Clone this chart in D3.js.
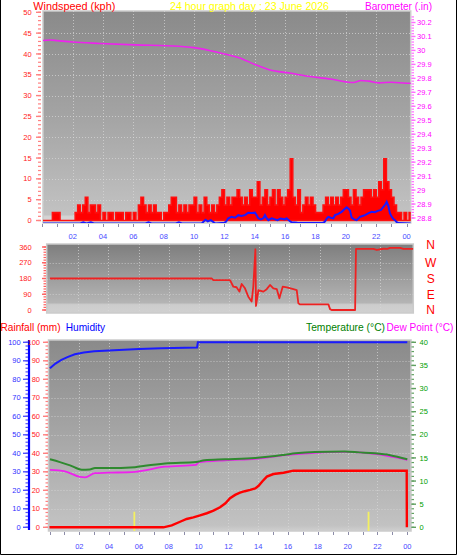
<!DOCTYPE html>
<html><head><meta charset="utf-8">
<script src="https://cdn.jsdelivr.net/npm/d3@7"></script>
<style>body{margin:0;background:#fff}svg{display:block;font-family:"Liberation Sans",Arial,sans-serif}</style>
</head><body><svg id="c" width="457" height="555"></svg>
<script>
// ---------------- DATA ----------------
const hourTickLabels = ["02","04","06","08","10","12","14","16","18","20","22","00"];
const hourTickValues = [2,4,6,8,10,12,14,16,18,20,22,24];
// wind gust (kph), one value per 10-minute slot starting 00:00
const gustSlotHours = 1/6;
const windGust = [
0,0,0,0,1.9,1.9,1.9,0,0,0,0,0,0,1.9,3.7,1.9,3.7,5.6,1.9,3.7,3.7,1.9,3.7,0,
1.9,0,1.9,1.9,0,1.9,1.9,1.9,0,1.9,1.9,0,1.9,0,3.7,5.6,3.7,1.9,3.7,1.9,3.7,1.9,
1.9,0,1.9,1.9,3.7,5.6,5.6,1.9,3.7,1.9,3.7,1.9,3.7,3.7,5.6,1.9,3.7,1.9,5.6,3.7,
1.9,3.7,1.9,3.7,5.6,7.4,3.7,5.6,3.7,5.6,5.6,7.4,5.6,3.7,5.6,3.7,7.4,5.6,5.6,9.3,
3.7,5.6,7.4,3.7,5.6,7.4,3.7,7.4,5.6,3.7,5.6,7.4,14.8,5.6,3.7,7.4,1.9,3.7,5.6,3.7,
5.6,3.7,1.9,1.9,1.9,3.7,5.6,3.7,5.6,3.7,5.6,3.7,5.6,7.4,7.4,5.6,3.7,7.4,5.6,3.7,
5.6,7.4,7.4,7.4,5.6,7.4,5.6,9.3,7.4,14.8,9.3,7.4,5.6,3.7,1.9,1.9,0,1.9,0,1.9];
// average wind (kph): [hour, value]
const windAvg = [[0,0],[2.5,0],[2.7,0.3],[2.9,0],[3.2,0.3],[3.4,0],[6.8,0],[7.0,0.3],[7.2,0],[8.8,0],[9.0,0.3],[9.2,0],
[10.5,0],[10.75,0.9],[10.9,0.5],[11.1,0.8],[11.4,0],[12.0,0.2],[12.1,0.4],[12.25,1.25],[12.47,1.6],[12.7,1.4],[12.91,2.0],
[13.1,1.8],[13.35,2.0],[13.57,2.6],[13.8,2.5],[14.01,2.6],[14.12,2.0],[14.23,1.25],[14.4,1.0],[14.56,1.25],[14.67,2.0],
[14.78,1.3],[14.89,0.8],[15.11,1.25],[15.33,1.0],[15.5,0.8],[15.7,1.2],[15.98,1.0],[16.09,1.25],[16.3,0.6],[16.42,0.3],
[16.8,0.2],[17.5,0.1],[18.5,0.2],[18.61,0.4],[18.75,1.25],[18.84,1.6],[19.0,1.4],[19.17,1.25],[19.28,2.0],[19.5,2.3],
[19.72,2.8],[19.9,3.4],[20.05,3.9],[20.15,3.6],[20.27,3.1],[20.38,1.4],[20.55,1.0],[20.71,0.8],[20.93,1.6],[21.1,1.8],
[21.26,2.0],[21.5,2.5],[21.7,2.8],[21.9,2.7],[22.14,3.1],[22.3,3.2],[22.47,4.0],[22.6,4.6],[22.69,5.2],[22.8,4.2],
[22.9,2.5],[23.02,1.6],[23.15,1.0],[23.24,0.8],[23.35,0.3],[23.46,0.1],[24.3,0]];
// barometer (in): [hour, value]
const barometer = [[0,30.07],[0.5,30.075],[1,30.07],[2,30.06],[3.8,30.05],[6.1,30.04],[9,30.03],[10,30.02],[11,30.0],
[12,29.975],[13,29.946],[14,29.9],[15,29.86],[16.3,29.838],[17.5,29.815],[19,29.795],[20,29.775],[20.5,29.77],
[21,29.785],[21.5,29.78],[22.2,29.768],[23,29.772],[24,29.765],[24.3,29.765]];
// wind direction (degrees): [hour, value]
const windDir = [[0.13,180],[10.86,180],[10.96,171],[12.07,171],[12.29,133],[12.5,130],[12.69,105],[12.84,149],
[13.06,124],[13.28,76],[13.5,48],[13.61,133],[13.75,347],[13.79,23],[13.95,114],[14.28,105],[14.5,119],[14.72,143],
[14.94,124],[15.17,119],[15.34,67],[15.56,133],[15.83,129],[16.27,119],[16.49,114],[16.6,38],[16.71,32],[18.59,32],
[18.7,5],[18.8,0],[20.36,0],[20.42,349],[21.57,349],[21.8,343],[22.24,350],[22.5,349],[22.68,355],[23.34,355],
[23.56,349],[24.22,349]];
const compassLabels = ["N","W","S","E","N"];
const compassDegrees = [360,270,180,90,0];
// humidity (%)
const humidity = [[0.03,86],[0.4,88.5],[0.8,90.5],[1.2,92],[1.7,93.5],[2.3,94.5],[3,95.2],[4,95.6],[5,96],[6,96.4],
[7.5,96.8],[9.9,97.2],[9.95,100],[24,100]];
// temperature (°C)
const temperature = [[0.03,14.7],[0.7,14.1],[1.38,13.4],[2.16,12.45],[2.7,12.5],[3.05,12.8],[3.84,12.8],[5.74,13.0],
[6.4,13.3],[7.75,13.8],[9.83,14.1],[10.4,14.5],[11.78,14.7],[13.8,15.0],[14.8,15.3],[15.8,15.7],[16.5,16.0],
[17.8,16.3],[19.8,16.4],[20.8,16.2],[21.8,16.0],[22.85,15.6],[24,14.7]];
// dew point (°C)
const dewPoint = [[0.03,12.4],[1.04,12.1],[2.05,10.9],[2.38,10.8],[3.05,11.7],[3.93,11.8],[5.74,12.0],[7.75,13.1],
[9.83,13.5],[9.97,14.0],[11.78,14.5],[13.8,14.8],[15.8,15.6],[17.8,16.1],[19.8,16.3],[21.8,15.9],[24,14.6]];
// rainfall (mm)
const rainfall = [[0,0],[7.64,0],[8.2,1],[8.76,3],[9.2,4.5],[9.65,5.4],[10.1,6.5],[10.55,7.6],[11,9],[11.44,10.8],
[11.8,13],[12.11,15.7],[12.45,17.5],[12.78,18.7],[13.1,19.5],[13.46,20.2],[13.8,21],[14.01,22.3],[14.3,25],[14.58,27.4],
[15.02,28.8],[15.7,29.5],[16.36,30.6],[23.96,30.6],[23.97,0]];
// sunrise / sunset markers (hours)
const sunMarks = [5.69, 21.4];
const sunMarkHeight = 8.4;

// ---------------- DRAWING ----------------
const svg = d3.select("#c");
const defs = svg.append("defs");
function grad(id, stops){
  const g = defs.append("linearGradient").attr("id",id).attr("x1",0).attr("y1",0).attr("x2",0).attr("y2",1);
  stops.forEach(s=>g.append("stop").attr("offset",s[0]).attr("stop-color",s[1]));
}
grad("g1",[[0,"#8a8a8a"],[0.5,"#a4a4a4"],[0.96,"#c2c2c2"],[0.97,"#d4d4d4"],[1,"#d4d4d4"]]);
grad("g2",[[0,"#7e7e7e"],[0.85,"#b4b4b4"],[0.88,"#cdcdcd"],[1,"#d0d0d0"]]);
grad("g3",[[0,"#8a8a8a"],[0.5,"#a6a6a6"],[0.97,"#c2c2c2"],[1,"#cfcfcf"]]);

// border
svg.append("path").attr("d","M0.5,0 V554.5 H456.5 V0").attr("fill","none").attr("stroke","#000");

const P1 = {x:43, y:11, w:367.7, h:212};
const P2 = {x:46.7, y:244, w:366.6, h:69};
const P3 = {x:48.5, y:340, w:362.5, h:191};
function panel(P, gid, clipId){
  svg.append("rect").attr("x",P.x).attr("y",P.y).attr("width",P.w).attr("height",P.h)
    .attr("fill",`url(#${gid})`).attr("stroke","#cbcbcb").attr("stroke-width",1.5);
  defs.append("clipPath").attr("id",clipId).append("rect").attr("x",P.x).attr("y",P.y).attr("width",P.w).attr("height",P.h);
}
panel(P1,"g1","c1"); panel(P2,"g2","c2"); panel(P3,"g3","c3");

const x1 = d3.scaleLinear([0,24],[42.3,406.6]);
const ySpd = d3.scaleLinear([0,50],[220.5,12.3]);
const yBar = d3.scaleLinear([28.8,30.2],[218,22.5]);
const x2 = d3.scaleLinear([0,24],[48,410]);
const yDir = d3.scaleLinear([0,360],[310,247]);
const x3 = d3.scaleLinear([0,24],[49.5,407.3]);
const yPct = d3.scaleLinear([0,100],[527.3,342.3]);
const yTemp = d3.scaleLinear([0,40],[527.3,342.3]);

const gridStyle = s=>s.attr("stroke","#d8d8d8").attr("stroke-opacity",0.7).attr("stroke-dasharray","1,2").attr("stroke-width",1);
function grid(P, xs, xv, ys, yv){
  const g = svg.append("g");
  yv.forEach(v=>g.append("line").attr("x1",P.x).attr("x2",P.x+P.w).attr("y1",Math.round(ys(v))+0.5).attr("y2",Math.round(ys(v))+0.5).call(gridStyle));
  xv.forEach(v=>g.append("line").attr("y1",P.y).attr("y2",P.y+P.h).attr("x1",Math.round(xs(v))+0.5).attr("x2",Math.round(xs(v))+0.5).call(gridStyle));
}
grid(P1,x1,hourTickValues.slice(0,-1),ySpd,d3.range(5,50,5));
grid(P2,x2,hourTickValues.slice(0,-1),yDir,[90,180,270]);
grid(P3,x3,hourTickValues.slice(0,-1),yPct,d3.range(10,100,10));

// axis helper with minor/major ticks
function vAxis(scale, x, orient, majors, minors, majLen, minLen, tickColor, labelColor, labelX, anchor, fmt){
  const g = svg.append("g");
  const dir = orient==="left" ? -1 : 1;
  minors.forEach(v=>g.append("line").attr("x1",x).attr("x2",x+dir*minLen).attr("y1",scale(v)).attr("y2",scale(v)).attr("stroke",tickColor).attr("stroke-width",1.2));
  majors.forEach(v=>g.append("line").attr("x1",x).attr("x2",x+dir*majLen).attr("y1",scale(v)).attr("y2",scale(v)).attr("stroke",tickColor).attr("stroke-width",1.4));
  if(labelColor) majors.forEach(v=>g.append("text").attr("x",labelX).attr("y",scale(v)).attr("dy","0.35em")
    .attr("text-anchor",anchor).attr("font-size",7.5).attr("fill",labelColor).text(fmt(v)));
}
const f0 = v=>String(v);
// top panel axes
vAxis(ySpd,41,"left",d3.range(0,51,5),d3.range(0,51,1),5,3,"#ff8080","#ff2020",31.7,"end",f0);
vAxis(yBar,411.5,"right",d3.range(28.8,30.21,0.1).map(v=>+v.toFixed(1)),d3.range(28.8,30.25,0.02),4,2.5,"#ff70ff","#ff00ff",417,"start",v=>String(+v.toFixed(1)));
// middle
vAxis(yDir,46,"left",[0,90,180,270,360],d3.range(0,361,15),4,2.5,"#ff6060","#ff2020",31.7,"end",f0);
// bottom
svg.append("line").attr("x1",29).attr("x2",29).attr("y1",340).attr("y2",530).attr("stroke","#0000ff").attr("stroke-width",2.2);
vAxis(yPct,28,"left",d3.range(0,101,10),d3.range(0,101,2),5,2.5,"#5050ff","#3030ff",20.7,"end",f0);
vAxis(yPct,48,"left",d3.range(0,101,10),d3.range(0,101,2),5,2.5,"#ff8080","#ff2020",40,"end",f0);
vAxis(yTemp,411.5,"right",d3.range(0,41,5),d3.range(0,41,1),4.5,2.5,"#60a060","#00a000",419.5,"start",f0);

// hour ticks & labels
function hourTicks(xs, y1, y2){
  d3.range(0,25,1).forEach(h=>svg.append("line").attr("x1",Math.round(xs(h))+0.5).attr("x2",Math.round(xs(h))+0.5)
    .attr("y1",y1).attr("y2",y2).attr("stroke","#8c8ca8").attr("stroke-width",1));
}
hourTicks(x1,224,227);
hourTicks(x3,532,535);
hourTickValues.forEach((h,i)=>{
  svg.append("text").attr("x",x1(h)).attr("y",236).attr("dy","0.35em").attr("text-anchor","middle")
    .attr("font-size",7.5).attr("fill","#4848ff").text(hourTickLabels[i]);
  svg.append("text").attr("x",x3(h)).attr("y",546).attr("dy","0.35em").attr("text-anchor","middle")
    .attr("font-size",7.5).attr("fill","#4848ff").text(hourTickLabels[i]);
});

// ---- top panel marks ----
const g1 = svg.append("g").attr("clip-path","url(#c1)");
const gustPts = windGust.map((v,i)=>[i*gustSlotHours, v]).concat([[windGust.length*gustSlotHours, windGust[windGust.length-1]]]);
g1.append("path").datum(gustPts)
  .attr("d", d3.area().curve(d3.curveStepAfter).x(d=>x1(d[0])).y0(ySpd(0)).y1(d=>ySpd(d[1])))
  .attr("fill","#ff0000").attr("stroke","#ff1010").attr("stroke-width",1.6);
g1.append("path").datum(windAvg).attr("transform","translate(0,3)")
  .attr("d", d3.line().x(d=>x1(d[0])).y(d=>ySpd(d[1])))
  .attr("fill","none").attr("stroke","#1a1aff").attr("stroke-width",2);
g1.append("path").datum(barometer)
  .attr("d", d3.line().curve(d3.curveMonotoneX).x(d=>x1(d[0])).y(d=>yBar(d[1])))
  .attr("fill","none").attr("stroke","#ee22ee").attr("stroke-width",1.6);

// ---- middle panel ----
const g2 = svg.append("g").attr("clip-path","url(#c2)");
g2.append("path").datum(windDir)
  .attr("d", d3.line().x(d=>x2(d[0])).y(d=>yDir(d[1])))
  .attr("fill","none").attr("stroke","#ee2222").attr("stroke-width",1.8).attr("stroke-linejoin","round");
compassLabels.forEach((t,i)=>svg.append("text").attr("x",430.7).attr("y",yDir(compassDegrees[i])+(i===0?-2:0)).attr("dy","0.36em")
  .attr("text-anchor","middle").attr("font-size",12).attr("fill","#ff0000").text(t));

// ---- bottom panel ----
const g3 = svg.append("g").attr("clip-path","url(#c3)");
sunMarks.forEach(h=>g3.append("line").attr("x1",x3(h)).attr("x2",x3(h)).attr("y1",yPct(sunMarkHeight)).attr("y2",P3.y+P3.h)
  .attr("stroke","#f4f060").attr("stroke-width",1.8));
const lineB = (s)=>d3.line().x(d=>x3(d[0])).y(d=>s(d[1]));
g3.append("path").datum(dewPoint).attr("d",lineB(yTemp).curve(d3.curveMonotoneX))
  .attr("fill","none").attr("stroke","#ee22ee").attr("stroke-width",1.8);
g3.append("path").datum(temperature).attr("d",lineB(yTemp).curve(d3.curveMonotoneX))
  .attr("fill","none").attr("stroke","#2f8a2f").attr("stroke-width",2);
g3.append("path").datum(humidity).attr("d",lineB(yPct))
  .attr("fill","none").attr("stroke","#1a1aff").attr("stroke-width",2);
g3.append("path").datum(rainfall).attr("d",lineB(yPct))
  .attr("fill","none").attr("stroke","#ff0000").attr("stroke-width",2.4);

// ---- titles ----
function title(t,x,y,w,c){
  svg.append("text").attr("x",x).attr("y",y).attr("font-size",11).attr("fill",c)
    .attr("textLength",w).attr("lengthAdjust","spacingAndGlyphs").text(t);
}
title("Windspeed (kph)",33.3,10,82,"#ff0000");
title("24 hour graph day : 23 June 2026",170,10,159,"#ffff00");
title("Barometer (.in)",365,10,67,"#ff00ff");
title("Rainfall (mm)",0.5,331,60,"#ff0000");
title("Humidity",65.7,331,39.5,"#0000ff");
title("Temperature (°C)",306,331,79,"#008000");
svg.append("text").attr("x",386.5).attr("y",331).attr("font-size",10.1).attr("fill","#ff00ff").text("Dew Point (°C)");
</script></body></html>
